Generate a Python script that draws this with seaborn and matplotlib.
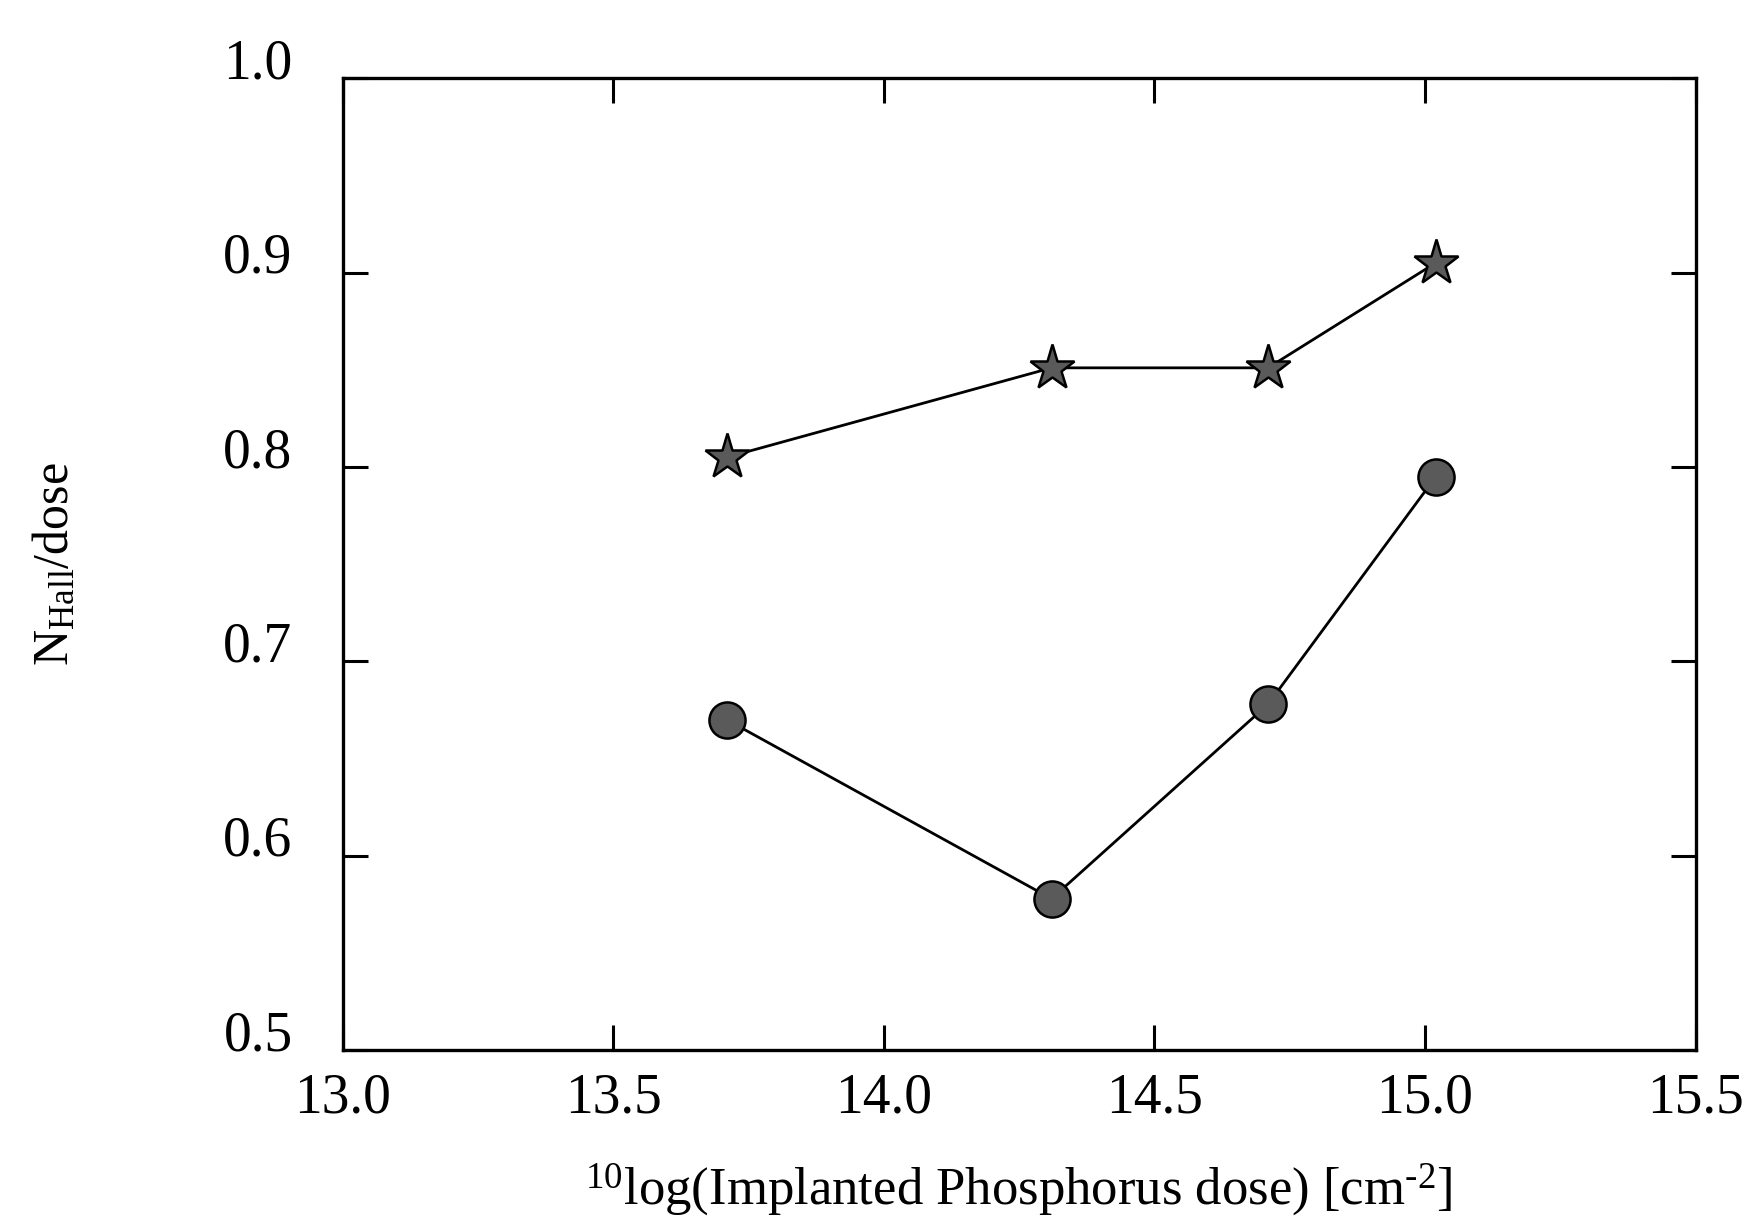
import numpy as np
import pandas as pd
import matplotlib
matplotlib.use("Agg")
import matplotlib.pyplot as plt
import seaborn as sns

dose_log = [13.71, 14.31, 14.71, 15.02]
ratio_star = [0.805, 0.851, 0.851, 0.905]
ratio_circle = [0.670, 0.578, 0.678, 0.795]

xticks = [13.0, 13.5, 14.0, 14.5, 15.0, 15.5]
yticks = [0.5, 0.6, 0.7, 0.8, 0.9, 1.0]

sns.set_style("ticks")
plt.rcParams['font.family'] = ['Liberation Serif', 'DejaVu Serif']
plt.rcParams['mathtext.fontset'] = 'custom'
plt.rcParams['mathtext.rm'] = 'Liberation Serif'
plt.rcParams['mathtext.default'] = 'regular'
plt.rcParams['text.color'] = 'black'
plt.rcParams['axes.labelcolor'] = 'black'

fig, ax = plt.subplots(figsize=(8.74, 6.1), dpi=200)
fig.subplots_adjust(left=0.196, right=0.970, top=0.936, bottom=0.139)

sns.lineplot(x=dose_log, y=ratio_star, ax=ax, color='black', linewidth=1.0,
             marker='*', markersize=17, markerfacecolor='#5a5a5a',
             markeredgecolor='black', markeredgewidth=0.9)
sns.lineplot(x=dose_log, y=ratio_circle, ax=ax, color='black', linewidth=1.0,
             marker='o', markersize=13, markerfacecolor='#5a5a5a',
             markeredgecolor='black', markeredgewidth=0.9)

ax.set_xlim(13.0, 15.5)
ax.set_ylim(0.5, 1.0)
ax.set_xticks(xticks)
ax.set_yticks(yticks)
ax.set_xticklabels([f"{t:.1f}" for t in xticks])
ax.set_yticklabels([f"{t:.1f}" for t in yticks])

ax.tick_params(direction='in', length=9, width=1.1, top=True, right=True,
               labelsize=20, colors='black')
ax.tick_params(axis='y', pad=18)
ax.tick_params(axis='x', pad=8)
for lab in ax.get_yticklabels():
    lab.set_va('baseline')

for s in ax.spines.values():
    s.set_linewidth(1.2)
    s.set_color('black')

ax.set_xlabel(r"$^{10}$log(Implanted Phosphorus dose) [cm$^{\text{-2}}$]", fontsize=19,
              labelpad=13, color='black')
ax.set_ylabel(r"N$_{\mathrm{Hall}}$/dose", fontsize=18, labelpad=52, color='black')

plt.savefig("out.png", dpi=200)
